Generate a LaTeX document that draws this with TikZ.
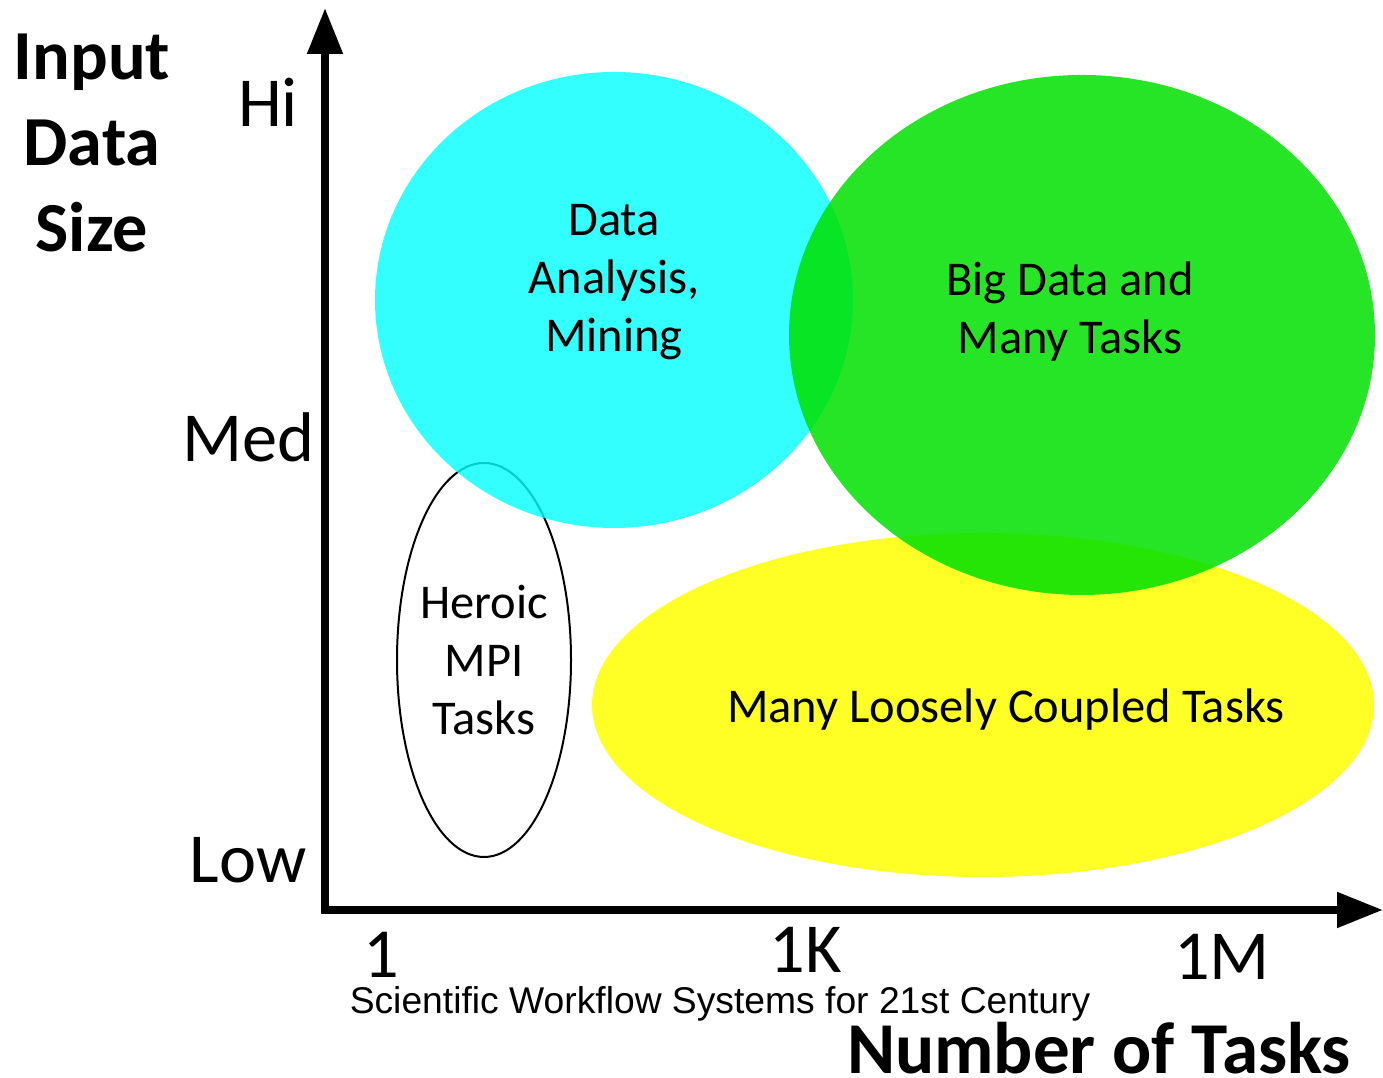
\documentclass[tikz,border=0pt]{standalone}
\usepackage{fontspec}
\setmainfont{Carlito}
\newfontfamily\capfont{Liberation Sans}
\usetikzlibrary{arrows.meta,shapes.geometric}
\definecolor{aqua}{RGB}{0,255,255}
\definecolor{leaf}{RGB}{0,225,0}
\definecolor{lemon}{RGB}{255,255,0}
\tikzset{
	blob/.style={ellipse, inner sep=0pt, draw=none},
	lbl/.style={align=center, font=\fontsize{13.8}{16.5}\selectfont},
	axlbl/.style={inner sep=0pt, font=\fontsize{20}{24}\selectfont},
}

\begin{document}
\begin{tikzpicture}
			%%%%% START %%%%%
			\useasboundingbox (0, 0) rectangle (13.83, 10.78);
			
			\node[blob, draw=black, line width=0.2mm, minimum width=1.74cm, minimum height=3.94cm] (heroic) at (4.84, 4.18) {};
			\node[blob, fill=aqua, fill opacity=0.8, minimum width=4.78cm, minimum height=4.56cm] (mining) at (6.14, 7.78) {};
			\node[blob, fill=lemon, fill opacity=0.85, minimum width=7.82cm, minimum height=3.44cm] (loose) at (9.83, 3.73) {};
			\node[blob, fill=leaf, fill opacity=0.85, minimum width=5.86cm, minimum height=5.2cm] (bigdata) at (10.82, 7.43) {};
			
			\node[lbl] at (6.14, 7.96) {Data\\Analysis,\\Mining};
			\node[lbl] at (10.70, 7.66) {Big Data and\\Many Tasks};
			\node[lbl] at (heroic.center) {Heroic\\MPI\\Tasks};
			\node[lbl] at (10.06, 3.68) {Many Loosely Coupled Tasks};
			
			\coordinate (origin) at (3.25, 1.68);
			\coordinate (ytip) at (3.25, 10.70);
			\coordinate (xtip) at (13.83, 1.68);
			\draw[line width=0.8mm, line join=miter, {Triangle[length=4.6mm, width=3.4mm]}-{Triangle[length=4.6mm, width=3.4mm]}] (ytip) -- (origin) -- (xtip);
			
			\node[axlbl, font=\fontsize{20}{24.5}\selectfont\bfseries, align=center] (ylabel) at (0.92, 9.35) {Input\\Data\\Size};
			\node[axlbl] (hi) at (2.68, 9.76) {Hi};
			\node[axlbl] (med) at (2.48, 6.41) {Med};
			\node[axlbl] (low) at (2.48, 2.18) {Low};
			
			\node[axlbl] (one) at (3.81, 1.23) {1};
			\node[axlbl] (kilo) at (8.06, 1.28) {1K};
			\node[axlbl] (mega) at (12.22, 1.21) {1M};
			
			\node[inner sep=0pt, font=\capfont\fontsize{10.6}{12}\selectfont] (caption) at (7.20, 0.74) {Scientific Workflow Systems for 21st Century};
			\node[axlbl, font=\fontsize{20.8}{24}\selectfont\bfseries] (xlabel) at (10.99, 0.30) {Number of Tasks};
			%%%%% END %%%%%
		\end{tikzpicture}
\end{document}
